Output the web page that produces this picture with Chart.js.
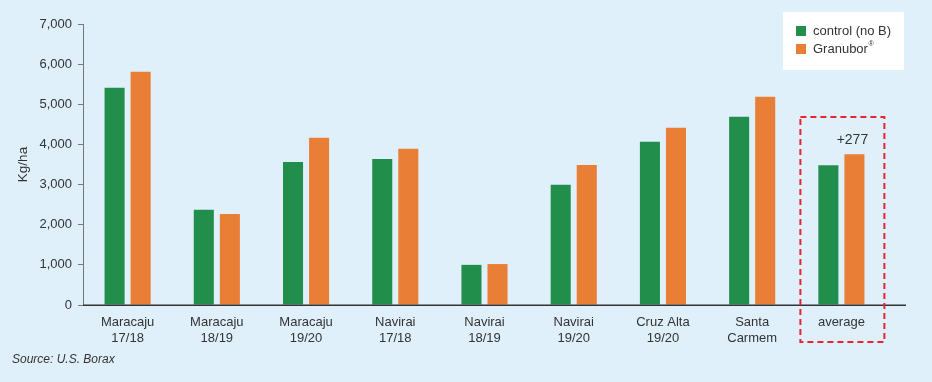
<!DOCTYPE html>
<html>
<head>
<meta charset="utf-8">
<script src="https://cdn.jsdelivr.net/npm/chart.js@4.4.1/dist/chart.umd.min.js"></script>
<style>
  html, body { margin: 0; padding: 0; background: #dff0fb; }
  #wrap { width: 932px; height: 382px; position: relative; }
</style>
</head>
<body>
<div id="wrap"><canvas id="yieldChart" width="932" height="382"></canvas></div>
<script>
// Yield per site (kg/ha)
const sites = [
  ["Maracaju", "17/18"], ["Maracaju", "18/19"], ["Maracaju", "19/20"],
  ["Navirai", "17/18"], ["Navirai", "18/19"], ["Navirai", "19/20"],
  ["Cruz Alta", "19/20"], ["Santa", "Carmem"], ["average"]
];
const controlYield  = [5410, 2370, 3565, 3640, 1000, 2995, 4065, 4690, 3480];
const granuborYield = [5810, 2270, 4165, 3890, 1020, 3490, 4415, 5185, 3757];
const seriesNames = ["control (no B)", "Granubor"];
const seriesColors = ["#228e4b", "#e97f37"];
const yTicks = [0, 1000, 2000, 3000, 4000, 5000, 6000, 7000];

Chart.defaults.font.family = "'Liberation Sans', Arial, sans-serif";
Chart.defaults.color = "#333";

const textColor = "#333";

// legend box, baseline, dashed box round the average and the source line
const extras = {
  id: "extras",
  afterDraw(chart) {
    const ctx = chart.ctx;
    const area = chart.chartArea;
    const xs = chart.scales.x;
    ctx.save();

    // x baseline runs a bit past the last group
    ctx.strokeStyle = "#333";
    ctx.lineWidth = 1.5;
    ctx.beginPath();
    ctx.moveTo(area.left, area.bottom + 0.25);
    ctx.lineTo(area.right + 20, area.bottom + 0.25);
    ctx.stroke();

    // dashed box round the average group
    const last = sites.length - 1;
    const cx = xs.getPixelForValue(last);
    ctx.strokeStyle = "#e52630";
    ctx.lineWidth = 2;
    ctx.setLineDash([6, 4]);
    ctx.strokeRect(cx - 41, area.bottom - 188, 84, 225);
    ctx.setLineDash([]);

    // gain label over the average Granubor bar
    const bar = chart.getDatasetMeta(1).data[last];
    const gain = granuborYield[last] - controlYield[last];
    ctx.fillStyle = textColor;
    ctx.font = "14px 'Liberation Sans', Arial, sans-serif";
    ctx.textAlign = "center";
    ctx.textBaseline = "bottom";
    ctx.fillText("+" + gain, bar.x - 2, bar.y - 7);

    // legend
    ctx.fillStyle = "#ffffff";
    ctx.fillRect(783, 12, 121, 58);
    ctx.textAlign = "left";
    ctx.textBaseline = "middle";
    seriesNames.forEach((name, i) => {
      const y = 31 + i * 18;
      ctx.fillStyle = seriesColors[i];
      ctx.fillRect(796, y - 5, 10, 10);
      ctx.fillStyle = textColor;
      ctx.font = "13px 'Liberation Sans', Arial, sans-serif";
      ctx.fillText(name, 813, y);
      if (i === 1) {
        const w = ctx.measureText(name).width;
        ctx.font = "7px 'Liberation Sans', Arial, sans-serif";
        ctx.fillText("®", 813 + w + 0.5, y - 5);
      }
    });

    // source
    ctx.font = "italic 12px 'Liberation Sans', Arial, sans-serif";
    ctx.fillStyle = textColor;
    ctx.fillText("Source: U.S. Borax", 12, 360);
    ctx.restore();
  }
};

new Chart(document.getElementById("yieldChart"), {
  type: "bar",
  data: {
    labels: sites,
    datasets: [
      { label: seriesNames[0], data: controlYield, backgroundColor: seriesColors[0] },
      { label: seriesNames[1], data: granuborYield, backgroundColor: seriesColors[1] }
    ]
  },
  options: {
    responsive: false,
    animation: false,
    layout: { padding: { top: 24, right: 46, bottom: 0, left: 0 } },
    datasets: { bar: { categoryPercentage: 0.584, barPercentage: 0.77, borderWidth: 0 } },
    plugins: { legend: { display: false }, tooltip: { enabled: false } },
    scales: {
      x: {
        afterFit: s => { s.height = 77; },
        grid: { display: false, drawTicks: false },
        border: { display: false },
        ticks: { padding: 10, color: textColor, font: { size: 13, lineHeight: 1.2 } }
      },
      y: {
        min: 0,
        max: 7000,
        afterFit: s => { s.width = 83; },
        afterBuildTicks: s => { s.ticks = yTicks.map(v => ({ value: v })); },
        title: { display: true, text: "Kg/ha", color: textColor, font: { size: 13.5 }, padding: { top: 15, bottom: 0 } },
        grid: { drawOnChartArea: false, tickLength: 5, tickColor: "#777" },
        border: { color: "#777", width: 1 },
        ticks: { padding: 6, color: textColor, font: { size: 13 }, callback: v => v.toLocaleString("en-US") }
      }
    }
  },
  plugins: [extras]
});
</script>
</body>
</html>
